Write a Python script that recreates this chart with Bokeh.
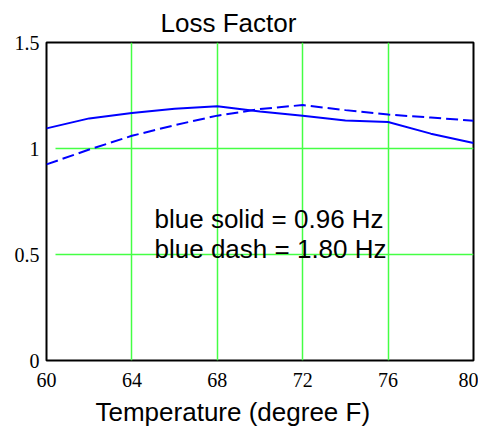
from bokeh.plotting import figure
from bokeh.models import Label, FixedTicker, Range1d, Title
from bokeh.embed import file_html
from bokeh.resources import INLINE

# Data
temps = [60, 62, 64, 66, 68, 70, 72, 74, 76, 78, 80]
loss_solid = [1.095, 1.142, 1.167, 1.188, 1.199, 1.175, 1.155, 1.132, 1.125, 1.07, 1.026]   # 0.96 Hz
loss_dash = [0.925, 0.995, 1.06, 1.11, 1.155, 1.186, 1.205, 1.181, 1.16, 1.146, 1.131]     # 1.80 Hz
x_ticks = [60, 64, 68, 72, 76, 80]
y_ticks = [0, 0.5, 1, 1.5]
title_text = "Loss Factor"
xlabel_text = "Temperature (degree F)"
note1 = "blue solid = 0.96 Hz"
note2 = "blue dash = 1.80 Hz"

p = figure(width=478, height=434, output_backend="svg", toolbar_location=None,
           x_range=Range1d(60, 80), y_range=Range1d(0, 1.5),
           min_border_left=46, min_border_right=5, min_border_top=41, min_border_bottom=74)

p.line(temps, loss_solid, line_color="#0000ff", line_width=2)
p.line(temps, loss_dash, line_color="#0000ff", line_width=2, line_dash="12 5")

p.xaxis.ticker = FixedTicker(ticks=x_ticks)
p.yaxis.ticker = FixedTicker(ticks=y_ticks)
p.yaxis.major_label_overrides = {0: "0", 0.5: "0.5", 1: "1", 1.5: "1.5"}

for ax in (p.xaxis[0], p.yaxis[0]):
    ax.axis_line_color = None
    ax.major_tick_line_color = None
    ax.minor_tick_line_color = None
    ax.major_tick_out = 0
    ax.minor_tick_out = 0
    ax.major_tick_in = 0
    ax.major_label_text_font = "Liberation Serif"
    ax.major_label_text_font_size = "20px"
    ax.major_label_text_color = "#000000"
p.xaxis.major_label_standoff = 12
p.yaxis.major_label_standoff = 7

p.outline_line_color = "#000000"
p.outline_line_width = 2
p.outline_line_alpha = 1

p.xgrid.grid_line_color = "#44ff44"
p.ygrid.grid_line_color = "#44ff44"
p.xgrid.grid_line_width = 1.5
p.ygrid.grid_line_width = 1.5
try:
    p.ygrid.cross_bounds = (60.42, 80)
except Exception:
    pass

p.add_layout(Title(text=title_text, align="left", offset=114, standoff=10,
                   text_font="Liberation Sans", text_font_size="26px",
                   text_font_style="normal", text_color="#000000"), "above")
p.add_layout(Title(text=xlabel_text, align="left", offset=49, standoff=10,
                   text_font="Liberation Sans", text_font_size="26px",
                   text_font_style="normal", text_color="#000000"), "below")

def add_text(x, y, t):
    p.add_layout(Label(x=x, y=y, text=t, text_font="Liberation Sans", text_font_size="26px",
                       text_color="#000000", text_baseline="alphabetic", text_align="left"))

add_text(65.06, 0.668, note1)
add_text(65.06, 0.527, note2)

open("out.html", "w").write(file_html(p, INLINE))
